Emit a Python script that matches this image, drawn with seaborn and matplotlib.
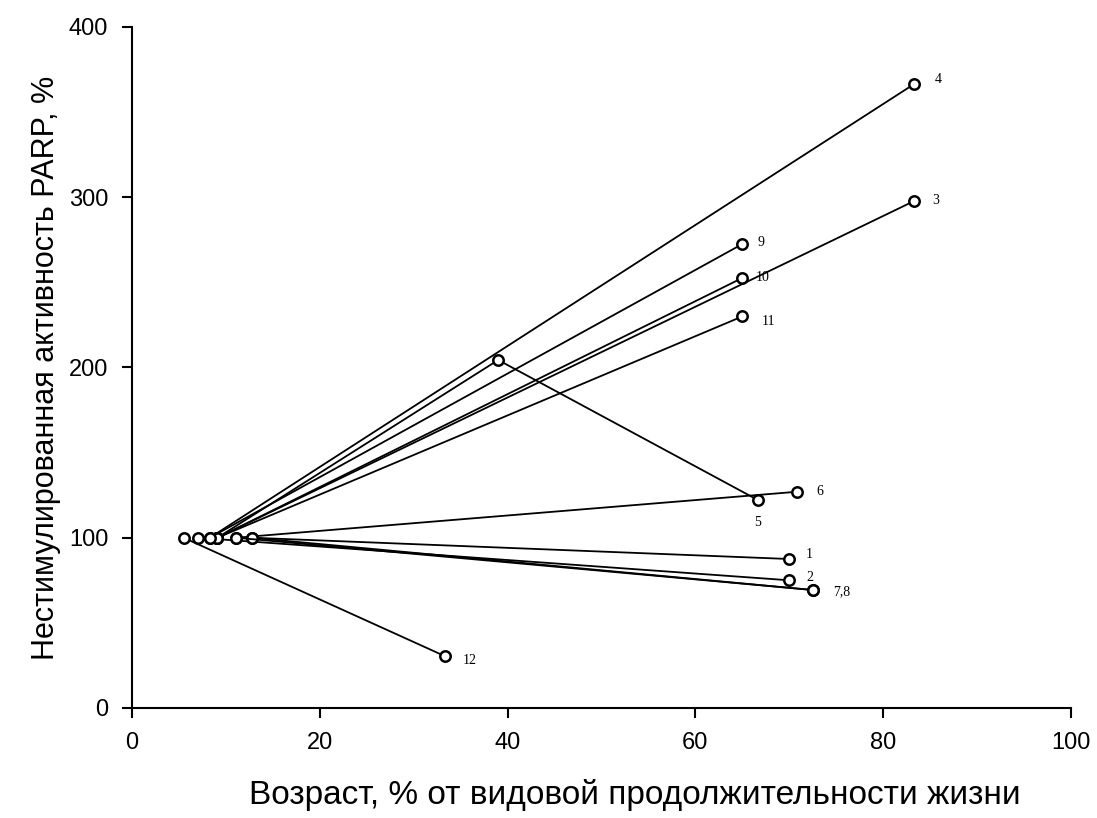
import pandas as pd
import seaborn as sns
import matplotlib.pyplot as plt

# series labels and start / end points
series = ['1', '2', '3', '4', '5', '6', '7', '8', '9', '10', '11', '12']
age_start = [12.8, 7.0, 9.1, 8.3, 9.1, 11.1, 12.8, 11.1, 8.3, 9.1, 9.1, 5.5]
act_start = [100, 100, 100, 100, 100, 100, 100, 100, 100, 100, 100, 100]
age_end = [70.0, 70.0, 83.3, 83.3, 66.7, 70.8, 72.5, 72.5, 65.0, 65.0, 65.0, 33.3]
act_end = [87.5, 75.0, 297.8, 366.5, 122.0, 127.0, 69.3, 69.3, 272.5, 252.6, 230.0, 30.5]

# series 5 has an intermediate point
mid_series = '5'
mid_age = 39.0
mid_act = 204.4

# point annotations (7 and 8 share one label)
label_text = ['1', '2', '3', '4', '5', '6', '7,8', '9', '10', '11', '12']
label_series = ['1', '2', '3', '4', '5', '6', '7', '9', '10', '11', '12']
label_offset = [(12, 3), (12, 2), (13, 0), (15, 3), (-3, -16), (14, 0),
                (15, -1), (11, 1), (10, 0), (14, -4), (13, -3)]

rows = []
for s, xs, ys, xe, ye in zip(series, age_start, act_start, age_end, act_end):
    rows.append({'series': s, 'order': 0, 'age': xs, 'act': ys})
    if s == mid_series:
        rows.append({'series': s, 'order': 1, 'age': mid_age, 'act': mid_act})
    rows.append({'series': s, 'order': 2, 'age': xe, 'act': ye})
df = pd.DataFrame(rows).sort_values(['series', 'order'])

sns.set_style('ticks', {'axes.edgecolor': 'black', 'text.color': 'black',
                        'axes.labelcolor': 'black', 'xtick.color': 'black',
                        'ytick.color': 'black'})
plt.rcParams['font.family'] = ['Liberation Sans', 'DejaVu Sans']

fig = plt.figure(figsize=(10.97, 8.18), dpi=100)
ax = fig.add_axes([0.1203, 0.1345, 0.856, 0.8325])

sns.lineplot(
    data=df, x='age', y='act', units='series', estimator=None, sort=False,
    color='black', lw=1.3, marker='o', markersize=7.5,
    markerfacecolor='white', markeredgecolor='black', markeredgewidth=1.8,
    ax=ax
)

ends = dict(zip(series, zip(age_end, act_end)))
for txt, s, off in zip(label_text, label_series, label_offset):
    ax.annotate(txt, ends[s], xytext=off, textcoords='offset points',
                ha='left', va='center', fontsize=10, family='Liberation Serif')

ax.set_xlim(0, 100)
ax.set_ylim(0, 400)
ax.set_xticks([0, 20, 40, 60, 80, 100])
ax.set_yticks([0, 100, 200, 300, 400])
sns.despine(ax=ax)
for sp in ax.spines.values():
    sp.set_linewidth(1.5)
ax.tick_params(direction='out', length=7, width=1.5, labelsize=17, pad=10)

ax.set_xlabel('Возраст, % от видовой продолжительности жизни', fontsize=24, labelpad=18)
ax.xaxis.label.set_x(0.535)
ax.set_ylabel('Нестимулированная активность PARP, %', fontsize=22, labelpad=6)

plt.savefig('out.png', dpi=100)
